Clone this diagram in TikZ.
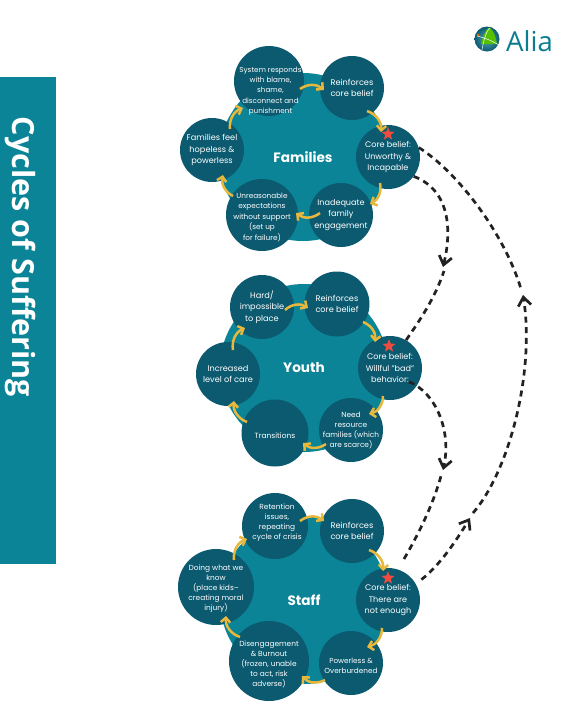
\documentclass[tikz,border=0pt]{standalone}
\usepackage{fontspec}
\usetikzlibrary{arrows.meta,calc,shapes.geometric}
\setmainfont{Poppins}
\newfontfamily\sidefont{Open Sans}
\newfontfamily\logofont{Open Sans}
\definecolor{darkteal}{HTML}{0B5A70}
\definecolor{midteal}{HTML}{0A8496}
\definecolor{gold}{HTML}{E8B83C}
\definecolor{starred}{HTML}{EF4B3F}
\definecolor{ink}{HTML}{222222}
\newcommand{\yarr}[4]{\draw[yarrow] ($(#1)+(#2)$) to[bend left=38] ($(#3)+(#4)$);}
\tikzset{
  bigdisc/.style={circle,fill=midteal,minimum size=168pt,inner sep=0pt,text=white,font=\fontsize{13.6}{15}\selectfont\bfseries},
  circ/.style={circle,fill=darkteal,inner sep=0pt,minimum size=64pt},
  lbl/.style={text=white,align=center,inner sep=0pt,font=\fontsize{7.5}{11}\selectfont},
  lblb/.style={text=white,align=center,inner sep=0pt,font=\fontsize{8.2}{11.5}\selectfont},
  lbls/.style={text=white,align=center,inner sep=0pt,font=\fontsize{7.4}{10}\selectfont},
  corelbl/.style={text=white,align=center,inner sep=0pt,font=\fontsize{8.1}{11.5}\selectfont},
  yarrow/.style={draw=gold,line width=2.5pt,-{Straight Barb[length=4.6pt,width=9.5pt,line width=2.5pt]}},
  redstar/.style={star,star points=5,star point ratio=2.4,fill=starred,inner sep=0pt,minimum size=14pt},
  dashline/.style={draw=ink,line width=2.7pt,dash pattern=on 6pt off 4.6pt},
  dasharrow/.style={dashline,-{Straight Barb[length=8.5pt,width=13pt,line width=2.7pt]}}
}
\begin{document}
\begin{tikzpicture}[x=1pt,y=-1pt]
\useasboundingbox (0,0) rectangle (563,716);
\fill[white] (0,0) rectangle (563,716);
% side band
\node[fill=midteal,minimum width=56pt,minimum height=487pt,inner sep=0pt] (band) at (28,320.5) {};
\node[rotate=-90,text=white,inner sep=0pt,font=\sidefont\fontsize{30.5}{32}\selectfont\bfseries] (title) at (21,257) {Cycles of Suffering};
% logo
\node[circle,minimum size=25pt,inner sep=0pt,shade,inner color=midteal!70!white,outer color=darkteal] (logoc) at (487,39) {};
\fill[green!55!yellow!75!black] (481,44) .. controls (485,30) and (488,27) .. (490,28) .. controls (494,31) and (496,38) .. (497,44) -- cycle;
\draw[white,line width=0.5pt] (477,36) .. controls (486,38) and (494,42) .. (499,45);
\draw[white,line width=0.5pt] (482,50) .. controls (484,38) and (487,30) .. (490,28);
\fill[orange!85!red] (478,35) circle (1.3pt);
\node[text=midteal!85!darkteal,anchor=west,inner sep=0pt,font=\logofont\fontsize{27.5}{29}\selectfont] (logot) at (506,41) {Alia};

% ---- Families
\node[bigdisc] (fam) at (303,157) {Families};
\node[circ,minimum size=70pt,label={[lbl,xshift=1.5pt,yshift=-10pt,font=\fontsize{7.2}{10.3}\selectfont]center:{System responds\\with blame,\\shame,\\disconnect and\\punishment}}] (fa) at (269,81) {};
\node[circ,label={[lblb]center:{Reinforces\\core belief}}] (fb) at (352,88) {};
\node[circ,label={[corelbl]center:{Core belief:\\Unworthy \&\\Incapable}}] (fc) at (388,157) {};
\node[circ,label={[corelbl]center:{Inadequate\\family\\engagement}}] (fd) at (341,215) {};
\node[circ,minimum size=72pt,label={[lbl,yshift=-2pt,font=\fontsize{7.3}{10.5}\selectfont]center:{Unreasonable\\expectations\\without support\\(set up\\for failure)}}] (fe) at (262,215) {};
\node[circ,label={[lblb]center:{Families feel\\hopeless \&\\powerless}}] (ff) at (212,150) {};
\yarr{fa}{31,8}{fb}{-28,2}
\yarr{fb}{15,23}{fc}{-7,-25}
\yarr{fc}{-8,26}{fd}{29,-11}
\yarr{fd}{-21,-2}{fe}{34,-2}
\yarr{fe}{-29,-19}{ff}{11,25}
\yarr{ff}{18,-21}{fa}{-26,27}
\node[redstar] (fs) at (388,134) {};

% ---- Youth
\node[bigdisc] (you) at (304,368) {Youth};
\node[circ,label={[lblb]center:{Hard/\\impossible\\to place}}] (ya) at (262,307) {};
\node[circ,minimum size=65pt,label={[lblb]center:{Reinforces\\core belief}}] (yb) at (337,304) {};
\node[circ,label={[corelbl]center:{Core belief:\\Willful "bad"\\behavior:}}] (yc) at (390,368) {};
\node[circ,label={[lbls]center:{Need\\resource\\families (which\\are scarce)}}] (yd) at (351,430) {};
\node[circ,minimum size=67pt,label={[lbl,yshift=-3pt]center:{Transitions}}] (ye) at (275,433) {};
\node[circ,label={[lblb]center:{Increased\\level of care}}] (yf) at (228,374) {};
\yarr{ya}{23,3}{yb}{-29,4}
\yarr{yb}{26,18}{yc}{-15,-26}
\yarr{yc}{-7,28}{yd}{18,-16}
\yarr{yd}{-25,14}{ye}{28,10}
\yarr{ye}{-28,-11}{yf}{6,27}
\yarr{yf}{5,-24}{ya}{-17,21}
\node[redstar] (ys) at (389,346) {};

% ---- Staff
\node[bigdisc] (sta) at (304,600) {Staff};
\node[circ,minimum size=66pt,label={[lbls,xshift=2pt,yshift=3pt]center:{Retention\\issues,\\repeating\\cycle of crisis}}] (sa) at (275,526) {};
\node[circ,label={[lblb]center:{Reinforces\\core belief}}] (sb) at (352,531) {};
\node[circ,label={[corelbl]center:{Core belief:\\There are\\not enough}}] (sc) at (388,600) {};
\node[circ,label={[lbl,yshift=-3pt,font=\fontsize{7.3}{10.5}\selectfont]center:{Powerless \&\\Overburdened}}] (sd) at (351,663) {};
\node[circ,minimum size=80pt,label={[lbls,yshift=-3pt]center:{Disengagement\\\& Burnout\\(frozen, unable\\to act, risk\\adverse)}}] (se) at (269,661) {};
\node[circ,minimum size=76pt,label={[lbls,yshift=-2pt]center:{Doing what we\\know\\(place kids--\\creating moral\\injury)}}] (sf) at (216,587) {};
\yarr{sa}{25,-5}{sb}{-28,-10}
\yarr{sb}{17,19}{sc}{-5,-29}
\yarr{sc}{-6,28}{sd}{16,-16}
\yarr{sd}{-26,17}{se}{33,15}
\yarr{se}{-29,-24}{sf}{10,29}
\yarr{sf}{18,-27}{sa}{-28,13}
\node[redstar] (ss) at (388,578) {};

% ---- dashed connectors
\coordinate (tipA) at (523,295);
\coordinate (tipA2) at (521,289);
\coordinate (tipB) at (443,267);
\coordinate (tipB2) at (444,271);
\coordinate (tipC) at (443,470);
\coordinate (tipC2) at (441,476);
\coordinate (tipD) at (470,518);
\coordinate (tipD2) at (473,513);
\draw[dashline] (fc.17) .. controls (458,172) and (505,235) .. (tipA2);
\draw[dasharrow] (tipD2) .. controls (510,470) and (535,370) .. (tipA);
\draw[dasharrow,shorten <=7pt] (sc.30) .. controls (440,565) and (456,541) .. (tipD);
\draw[dasharrow] (fc.-37) .. controls (450,190) and (452,230) .. (tipB);
\draw[dashline] (yc.60) .. controls (420,320) and (435,298) .. (tipB2);
\draw[dasharrow,shorten <=-9pt] (yc.-32) .. controls (435,392) and (452,430) .. (tipC);
\draw[dashline,shorten <=12pt] (sc.72) .. controls (418,535) and (433,505) .. (tipC2);
\end{tikzpicture}
\end{document}
